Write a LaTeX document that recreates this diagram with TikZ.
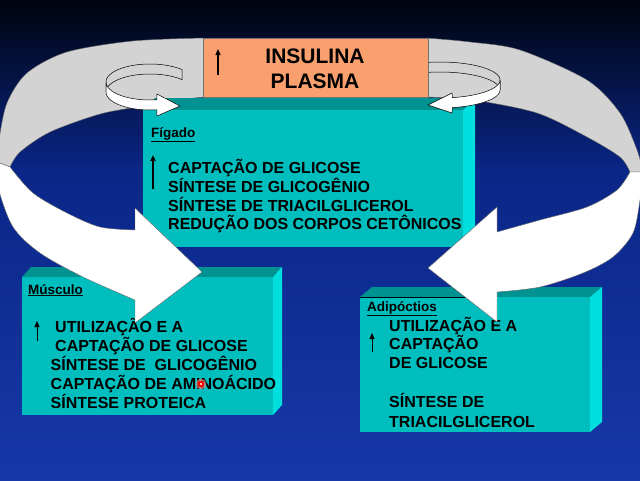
\documentclass[tikz,border=0pt]{standalone}
\usepackage{fontspec}
\setmainfont{Liberation Sans}
\usetikzlibrary{arrows.meta}
\definecolor{bgtop}{RGB}{0,4,14}
\definecolor{bgmid}{RGB}{10,38,135}
\definecolor{bgbot}{RGB}{22,56,168}
\definecolor{bandgray}{RGB}{211,211,211}
\definecolor{orangebox}{RGB}{250,160,110}
\definecolor{tealfront}{RGB}{0,190,190}
\definecolor{tealtop}{RGB}{0,145,145}
\definecolor{tealside}{RGB}{0,222,222}
\newcommand\cubebox[6]{%
  \fill[tealtop] (#1,#2) -- ({#1+#5},{#2-#6}) -- ({#3+#5},{#2-#6}) -- (#3,#2) -- cycle;
  \fill[tealside] (#3,#2) -- ({#3+#5},{#2-#6}) -- ({#3+#5},{#4-#6}) -- (#3,#4) -- cycle;
  \fill[tealfront] (#1,#2) rectangle (#3,#4);}
\tikzset{
  big/.style={font=\fontsize{21}{21}\selectfont\bfseries},
  line/.style={anchor=base west,font=\fontsize{16}{16}\selectfont\bfseries,inner sep=0pt},
  lab/.style={anchor=base west,font=\fontsize{13.5}{14}\selectfont\bfseries,inner sep=0pt},
  upar/.style={-{Triangle[length=6pt,width=5pt]}},
  curl/.style={draw=black,line width=0.5pt},
  ribbon/.style={draw=black!60,line width=0.4pt}
}
\begin{document}
\begin{tikzpicture}[x=1pt,y=-1pt]
\useasboundingbox (0,0) rectangle (640,480);
\clip (0,0) rectangle (640,480);
% background
\shade[top color=bgtop,bottom color=bgmid] (0,0) rectangle (640,171);
\shade[top color=bgmid,bottom color=bgbot] (0,170) rectangle (640,480);
% gray backs of big ribbons
\filldraw[fill=bandgray,ribbon] plot[smooth] coordinates {(205,38) (133,41) (67,52) (27,73) (7,103) (-1,140) (-3,162)}
  -- plot[smooth] coordinates {(10,167) (20,152) (50,132) (100,114) (143,106) (175,100) (205,97)} -- cycle;
\filldraw[fill=bandgray,ribbon] plot[smooth] coordinates {(426,38) (470,42) (520,50) (587,80) (620,113) (637,150) (643,172)}
  -- plot[smooth] coordinates {(630,172) (620,157) (587,137) (537,113) (473,100) (426,97)} -- cycle;
% Figado box
\cubebox{143}{110}{463}{247}{12}{12}
% small curls (back parts)
\filldraw[fill=bandgray,curl] plot[domain=-43:-180,samples=40] ({150+44*cos(\x)},{82+18*sin(\x)})
  -- plot[domain=-180:-43,samples=40] ({150+44*cos(\x)},{92+18*sin(\x)}) -- cycle;
\filldraw[fill=bandgray,curl] plot[domain=-180:0,samples=40] ({440+60*cos(\x)},{80+18*sin(\x)})
  -- plot[domain=0:-180,samples=40] ({440+60*cos(\x)},{90+18*sin(\x)}) -- cycle;
% small curls (front parts with heads)
\filldraw[fill=white,curl] plot[domain=180:81,samples=40] ({150+44*cos(\x)},{82+18*sin(\x)})
  -- (157,94) -- (180,106) -- (157,116)
  -- plot[domain=81:180,samples=40] ({150+44*cos(\x)},{92+18*sin(\x)}) -- cycle;
\filldraw[fill=white,curl] plot[domain=0:78,samples=40] ({440+60*cos(\x)},{80+18*sin(\x)})
  -- (452,93) -- (428,105) -- (452,113)
  -- plot[domain=78:0,samples=40] ({440+60*cos(\x)},{90+18*sin(\x)}) -- cycle;
% orange box
\filldraw[fill=orangebox,draw=black!55,line width=0.5pt] (203,38) rectangle (428,97);
\node[big] (ins) at (315,56) {INSULINA};
\node[big] (pla) at (315,81) {PLASMA};
\draw[upar,line width=1.3pt] (218,75) -- (218,49);
% Figado text
\node[lab] (fig) at (151,137) {\underline{Fígado}};
\draw[upar,line width=1.8pt] (153,189) -- (153,155);
\node[line] (f1) at (168,173) {CAPTAÇÃO DE GLICOSE};
\node[line] (f2) at (168,192) {SÍNTESE DE GLICOGÊNIO};
\node[line] (f3) at (168,211) {SÍNTESE DE TRIACILGLICEROL};
\node[line] (f4) at (168,229.5) {REDUÇÃO DOS CORPOS CETÔNICOS};
% Musculo box
\cubebox{22}{277}{273}{415}{9}{10}
\node[lab] (mus) at (28,294) {\underline{Músculo}};
\draw[upar,line width=1pt] (37,341) -- (37,321);
\node[line] (m1) at (55,332) {UTILIZAÇÃO E A};
\node[line] (m2) at (55,351.5) {CAPTAÇÃO DE GLICOSE};
\node[line] (m3) at (50.5,370) {SÍNTESE DE\ \ GLICOGÊNIO};
\node[line] (m4) at (50.5,389) {CAPTAÇÃO DE AMINOÁCIDO};
\node[line] (m5) at (50.5,408) {SÍNTESE PROTEICA};
% Adipocitos box
\cubebox{360}{297}{590}{432}{12}{10}
\draw[black,line width=0.7pt] (360,297) -- (497,297);
\node[lab] (adi) at (367,311) {\underline{Adipóctios}};
\draw[upar,line width=1pt] (372,352) -- (372,333);
\node[line] (a1) at (389,331) {UTILIZAÇÃO E A};
\node[line] (a2) at (389,349) {CAPTAÇÃO};
\node[line] (a3) at (389,368) {DE GLICOSE};
\node[line] (a4) at (389,407) {SÍNTESE DE};
\node[line] (a5) at (389,427) {TRIACILGLICEROL};
% white fronts of big ribbons with heads
\filldraw[fill=white,ribbon] plot[smooth] coordinates {(-3,162) (-2,187) (13,227) (40,253) (83,277) (135,300)}
  -- (135,323) -- (202,272) -- (135,208)
  -- plot[smooth] coordinates {(135,230) (100,227) (67,213) (33,193) (10,167)} -- cycle;
\filldraw[fill=white,ribbon] plot[smooth] coordinates {(643,172) (640,200) (633,233) (613,257) (583,273) (540,287) (497,292)}
  -- (497,322) -- (428,268) -- (497,207)
  -- plot[smooth] coordinates {(497,232) (540,220) (587,207) (617,190) (630,172)} -- cycle;
% pointer dot
\fill[red!45,opacity=0.6] (201,384) circle (5.5);
\fill[red] (201,384) circle (3.3);
\fill[white] (201,384) circle (1.1);
\end{tikzpicture}
\end{document}
